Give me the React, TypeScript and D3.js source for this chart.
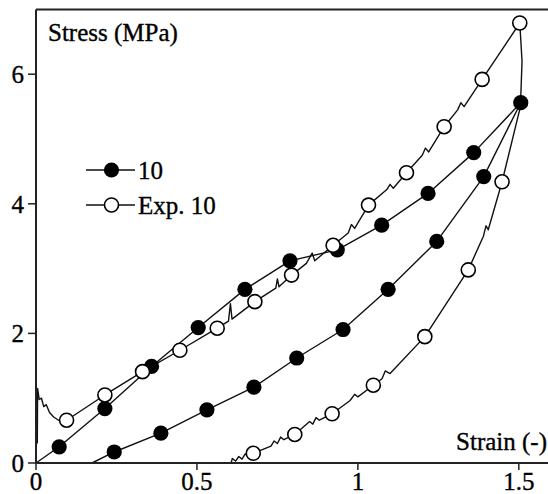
import React from "react";
import * as d3 from "d3";

// ---- data (strain, stress) ----
const xTicks = [0, 0.5, 1, 1.5];
const xTickLabels = ["0", "0.5", "1", "1.5"];
const yTicks = [0, 2, 4, 6];
const yTickLabels = ["0", "2", "4", "6"];

// Series "10" (filled markers)
const s10LoadMarkers: [number, number][] = [
  [0.072, 0.25], [0.214, 0.84], [0.359, 1.49], [0.504, 2.09], [0.649, 2.68],
  [0.789, 3.12], [0.936, 3.29], [1.074, 3.67], [1.218, 4.16], [1.36, 4.79], [1.506, 5.56],
];
const s10LoadLine: [number, number][] = [[0, 0], ...s10LoadMarkers];
const s10UnloadMarkers: [number, number][] = [
  [1.391, 4.42], [1.245, 3.42], [1.094, 2.68], [0.954, 2.06], [0.81, 1.62],
  [0.677, 1.17], [0.531, 0.82], [0.388, 0.46], [0.243, 0.17],
];
const s10UnloadLine: [number, number][] = [[1.506, 5.56], ...s10UnloadMarkers, [0.174, 0]];

// Series "Exp. 10" (open markers)
const expLoadMarkers: [number, number][] = [
  [0.095, 0.66], [0.214, 1.05], [0.331, 1.41], [0.447, 1.74], [0.563, 2.08],
  [0.68, 2.49], [0.794, 2.9], [0.923, 3.36], [1.033, 3.98], [1.151, 4.48],
  [1.268, 5.19], [1.386, 5.92], [1.503, 6.79],
];
const expLoadLine: [number, number][] = [
  [0.004, 0.3], [0.005, 1.15], [0.01, 0.98], [0.017, 1.0], [0.024, 0.87], [0.032, 0.9],
  [0.042, 0.78], [0.055, 0.71], [0.07, 0.66], [0.095, 0.66], [0.214, 1.05], [0.331, 1.41],
  [0.447, 1.74], [0.563, 2.08], [0.598, 2.19], [0.604, 2.46], [0.609, 2.22], [0.68, 2.49],
  [0.745, 2.7], [0.75, 2.84], [0.755, 2.72], [0.794, 2.9], [0.84, 3.08], [0.858, 3.24],
  [0.866, 3.12], [0.923, 3.36], [0.97, 3.55], [0.98, 3.68], [0.99, 3.62], [1.033, 3.98],
  [1.09, 4.22], [1.1, 4.3], [1.11, 4.24], [1.151, 4.48], [1.2, 4.75], [1.21, 4.86],
  [1.22, 4.8], [1.268, 5.19], [1.31, 5.45], [1.32, 5.56], [1.33, 5.5], [1.386, 5.92],
  [1.503, 6.79],
];
const expUnloadMarkers: [number, number][] = [
  [1.448, 4.34], [1.343, 2.98], [1.208, 1.95], [1.048, 1.2], [0.92, 0.76],
  [0.804, 0.44], [0.675, 0.15],
];
const expUnloadLine: [number, number][] = [
  [1.503, 6.79], [1.51, 6.2], [1.505, 5.5], [1.448, 4.34], [1.405, 3.6], [1.398, 3.66],
  [1.39, 3.5], [1.343, 2.98], [1.208, 1.95], [1.1, 1.38], [1.085, 1.42], [1.075, 1.3],
  [1.048, 1.2], [1.0, 1.02], [0.99, 1.06], [0.975, 0.96], [0.92, 0.76], [0.88, 0.66],
  [0.87, 0.7], [0.86, 0.6], [0.85, 0.64], [0.804, 0.44], [0.77, 0.36], [0.76, 0.4],
  [0.75, 0.3], [0.74, 0.34], [0.73, 0.26], [0.675, 0.15], [0.66, 0.1], [0.65, 0.14],
  [0.64, 0.06], [0.63, 0.1], [0.62, 0.03], [0.61, 0.07], [0.606, 0],
];

const legendItems = [
  { label: "10", filled: true },
  { label: "Exp. 10", filled: false },
];

const W = 548;
const H = 494;
const FONT = "'Liberation Serif', 'Times New Roman', serif";

export default function App() {
  const x = d3.scaleLinear().domain([0, 1.6]).range([36, 551]);
  const y = d3.scaleLinear().domain([0, 7]).range([463, 9.4]);
  const line = d3
    .line<[number, number]>()
    .x((d) => x(d[0]))
    .y((d) => y(d[1]));

  const r = 7.6;
  const lineStroke = "#111";
  const fs = 25;
  const textProps = { fill: "#000", stroke: "#000", strokeWidth: 0.35, fontSize: fs };

  const filledMarkers = [...s10LoadMarkers, ...s10UnloadMarkers];
  const openMarkers = [...expLoadMarkers, ...expUnloadMarkers];

  return (
    <svg
      width={W}
      height={H}
      style={{ position: "absolute", left: 0, top: 0, background: "#fff" }}
      fontFamily={FONT}
    >
      <rect x={0} y={0} width={W} height={H} fill="#fff" />
      {/* lines */}
      {[s10LoadLine, s10UnloadLine, expLoadLine, expUnloadLine].map((d, i) => (
        <path key={i} d={line(d) || ""} fill="none" stroke={lineStroke} strokeWidth={1.4} strokeLinejoin="round" />
      ))}
      {/* markers */}
      {filledMarkers.map((d, i) => (
        <circle key={"f" + i} cx={x(d[0])} cy={y(d[1])} r={r} fill="#000" />
      ))}
      {openMarkers.map((d, i) => (
        <circle key={"o" + i} cx={x(d[0])} cy={y(d[1])} r={r - 0.6} fill="#fff" stroke="#000" strokeWidth={1.6} />
      ))}

      {/* frame / axes */}
      <line x1={x(0)} x2={W} y1={y(7)} y2={y(7)} stroke="#222" strokeWidth={2} />
      <line x1={x(0)} x2={x(0)} y1={y(7)} y2={y(0)} stroke="#222" strokeWidth={2} />
      <line x1={x(0)} x2={W} y1={y(0)} y2={y(0)} stroke="#222" strokeWidth={2} />

      {/* y ticks */}
      {yTicks.map((t, i) => (
        <g key={"yt" + i}>
          <line x1={x(0) - 8} x2={x(0)} y1={y(t)} y2={y(t)} stroke="#222" strokeWidth={1.5} />
          <text x={24} y={y(t)} dy="0.35em" textAnchor="end" {...textProps}>
            {yTickLabels[i]}
          </text>
        </g>
      ))}
      {/* x ticks */}
      {xTicks.map((t, i) => (
        <g key={"xt" + i}>
          <line x1={x(t)} x2={x(t)} y1={y(0)} y2={y(0) + 7} stroke="#222" strokeWidth={1.5} />
          <text x={x(t)} y={490} textAnchor="middle" {...textProps}>
            {xTickLabels[i]}
          </text>
        </g>
      ))}

      {/* axis titles */}
      <text x={48} y={41} {...textProps}>Stress (MPa)</text>
      <text x={547} y={450} textAnchor="end" {...textProps}>Strain (-)</text>

      {/* legend */}
      {legendItems.map((it, i) => {
        const cy = 170 + i * 35;
        return (
          <g key={"lg" + i}>
            <line x1={86} x2={135} y1={cy} y2={cy} stroke={lineStroke} strokeWidth={1.5} />
            {it.filled ? (
              <circle cx={111.5} cy={cy} r={r} fill="#000" />
            ) : (
              <circle cx={111.5} cy={cy} r={r - 0.6} fill="#fff" stroke="#000" strokeWidth={1.6} />
            )}
            <text x={138} y={cy} dy="0.35em" {...textProps}>
              {it.label}
            </text>
          </g>
        );
      })}
    </svg>
  );
}
